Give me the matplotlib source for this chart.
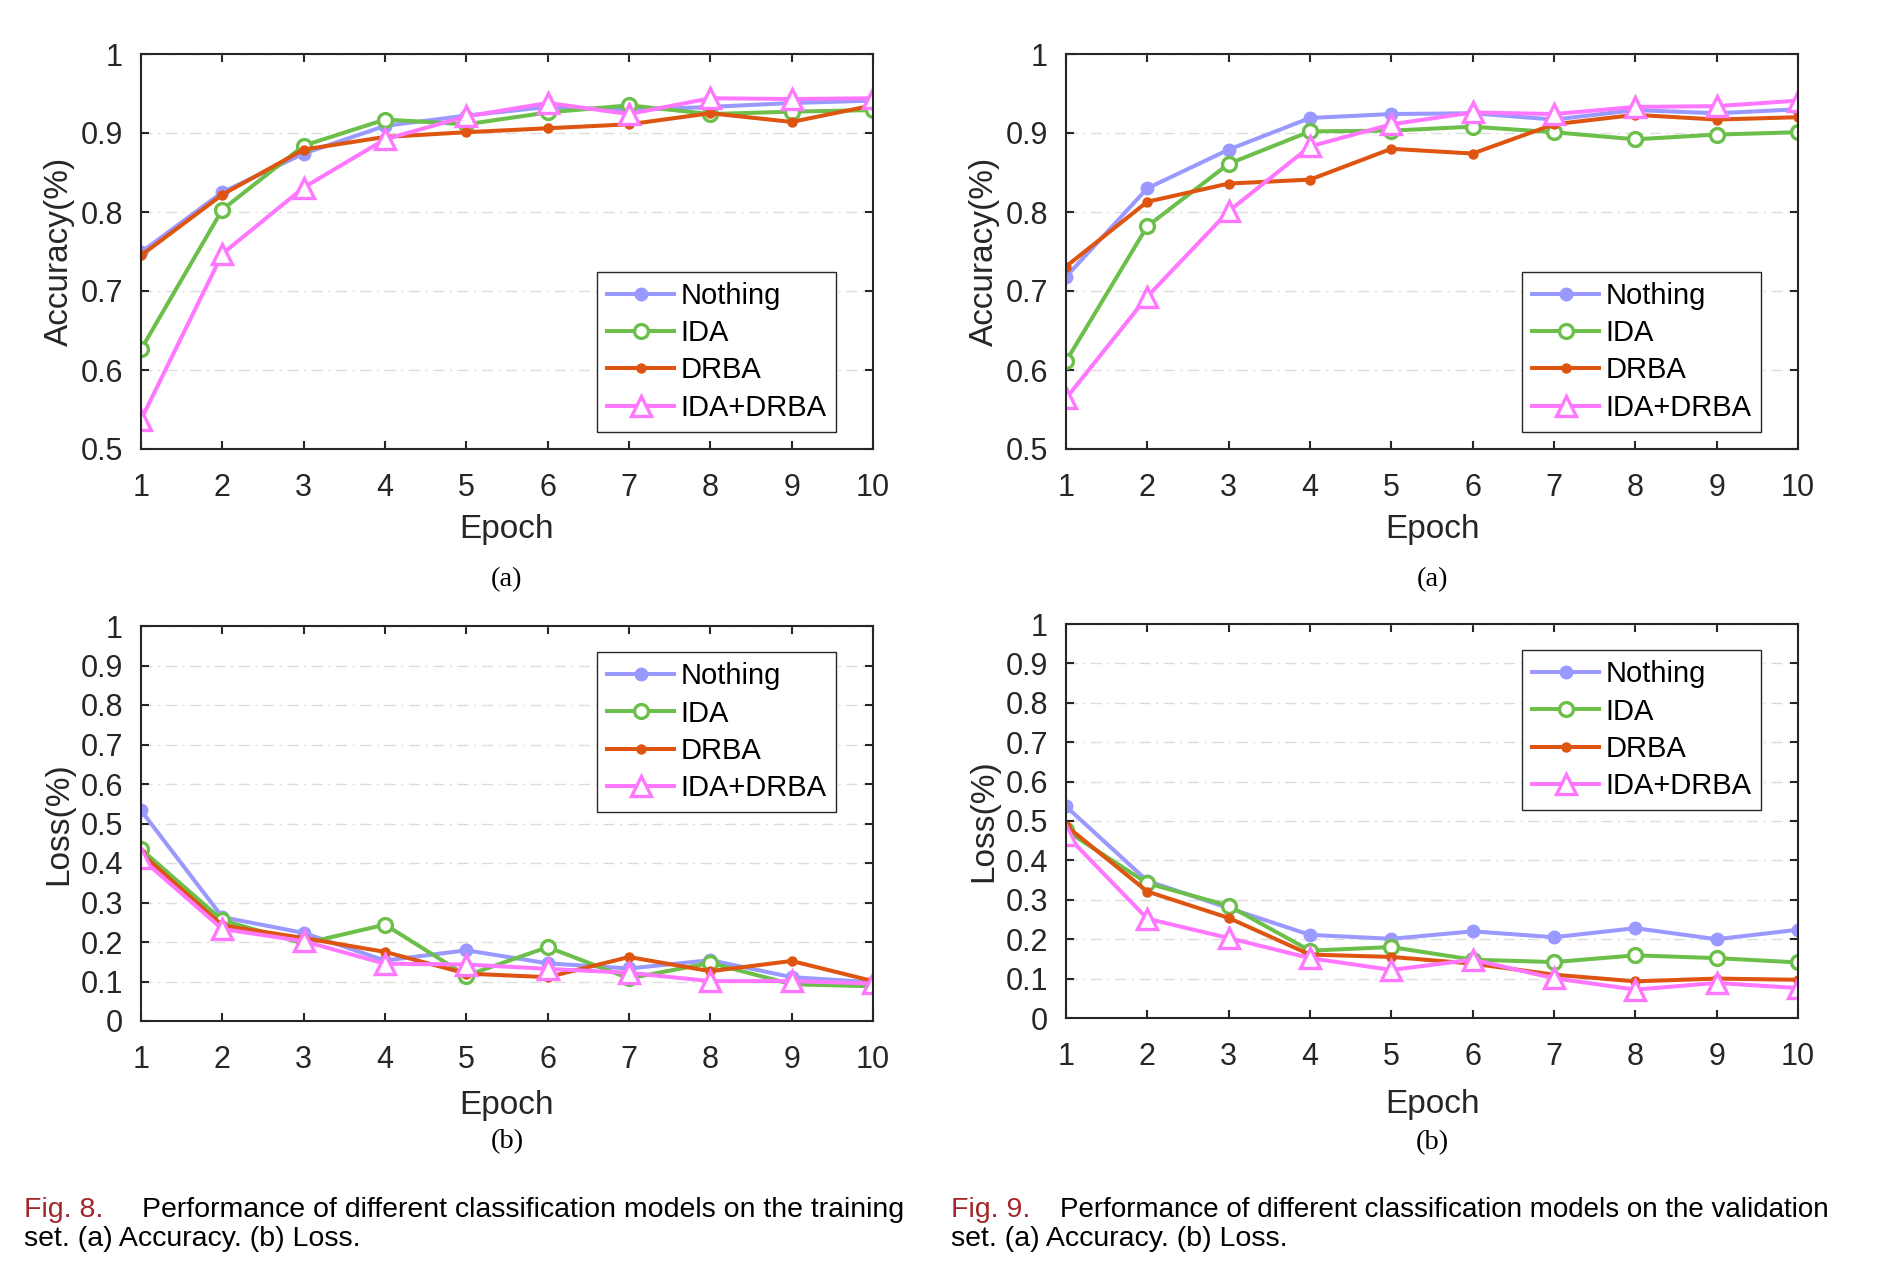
import matplotlib
matplotlib.use('Agg')
import matplotlib.pyplot as plt
from matplotlib.ticker import FuncFormatter
import numpy as np

plt.rcParams['font.family'] = ['Liberation Sans', 'DejaVu Sans']

epochs = np.arange(1, 11)
names = ['Nothing', 'IDA', 'DRBA', 'IDA+DRBA']

# training accuracy (Fig. 8a)
train_acc_nothing = [0.749, 0.825, 0.874, 0.909, 0.922, 0.933, 0.929, 0.933, 0.938, 0.941]
train_acc_ida = [0.626, 0.803, 0.884, 0.917, 0.911, 0.926, 0.935, 0.924, 0.927, 0.929]
train_acc_drba = [0.745, 0.822, 0.879, 0.895, 0.901, 0.906, 0.911, 0.925, 0.914, 0.935]
train_acc_both = [0.537, 0.747, 0.831, 0.892, 0.921, 0.938, 0.924, 0.944, 0.943, 0.944]

# training loss (Fig. 8b)
train_loss_nothing = [0.533, 0.263, 0.223, 0.153, 0.179, 0.146, 0.133, 0.154, 0.111, 0.098]
train_loss_ida = [0.435, 0.255, 0.196, 0.244, 0.115, 0.187, 0.108, 0.147, 0.093, 0.088]
train_loss_drba = [0.425, 0.242, 0.210, 0.175, 0.120, 0.111, 0.162, 0.126, 0.152, 0.101]
train_loss_both = [0.412, 0.233, 0.202, 0.145, 0.143, 0.132, 0.122, 0.101, 0.101, 0.095]

# validation accuracy (Fig. 9a)
val_acc_nothing = [0.718, 0.830, 0.879, 0.919, 0.924, 0.925, 0.917, 0.929, 0.925, 0.930]
val_acc_ida = [0.611, 0.782, 0.861, 0.902, 0.903, 0.908, 0.901, 0.892, 0.898, 0.901]
val_acc_drba = [0.731, 0.813, 0.836, 0.841, 0.880, 0.874, 0.911, 0.923, 0.917, 0.920]
val_acc_both = [0.564, 0.693, 0.801, 0.883, 0.911, 0.926, 0.924, 0.933, 0.934, 0.941]

# validation loss (Fig. 9b)
val_loss_nothing = [0.537, 0.348, 0.279, 0.211, 0.201, 0.220, 0.205, 0.228, 0.200, 0.224]
val_loss_ida = [0.476, 0.342, 0.285, 0.171, 0.180, 0.148, 0.142, 0.159, 0.152, 0.141]
val_loss_drba = [0.488, 0.321, 0.254, 0.161, 0.155, 0.138, 0.110, 0.093, 0.100, 0.097]
val_loss_both = [0.465, 0.252, 0.203, 0.152, 0.122, 0.148, 0.101, 0.072, 0.089, 0.076]

colors = ['#9999ff', '#6cbf4a', '#dd5511', '#ff77ff']
styles = [
    dict(marker='o', ms=9, mfc=colors[0], mec=colors[0]),
    dict(marker='o', ms=10, mfc='white', mec=colors[1], mew=2.4),
    dict(marker='o', ms=6.5, mfc=colors[2], mec=colors[2]),
    dict(marker='^', ms=14, mfc='white', mec=colors[3], mew=2.4),
]

W, H = 1888, 1282
fig = plt.figure(figsize=(W / 100, H / 100), dpi=100)
dark = '#262626'


def px_axes(left, top, right, bottom):
    return fig.add_axes([left / W, 1 - bottom / H, (right - left) / W, (bottom - top) / H])


def draw_panel(ax, series, ylim, yticks, ylabel, tag, leg_loc, leg_anchor, tag_y, lab_y):
    for i, ys in enumerate(series):
        ax.plot(epochs, ys, color=colors[i], lw=2.9, label=names[i], **styles[i])
    ax.set_xlim(1, 10)
    ax.set_ylim(*ylim)
    ax.set_xticks(epochs)
    ax.set_yticks(yticks)
    ax.yaxis.set_major_formatter(FuncFormatter(lambda v, p: f'{v:g}'))
    ax.grid(axis='y', ls=(0, (8, 4, 1.5, 4)), color='#dcdcdc', lw=1)
    ax.set_axisbelow(True)
    ax.tick_params(direction='in', top=True, right=True, length=6, width=1.5,
                   labelsize=22, colors=dark, pad=13)
    ax.tick_params(axis='x', pad=17)
    for s in ax.spines.values():
        s.set_linewidth(1.5)
        s.set_color(dark)
    ax.text(-0.112, 0.5, ylabel, transform=ax.transAxes, rotation=90,
            ha='center', va='center', fontsize=24, color=dark)
    ax.text(0.5, lab_y, 'Epoch', transform=ax.transAxes,
            ha='center', va='center', fontsize=24, color=dark)
    ax.text(0.5, tag_y, tag, transform=ax.transAxes, ha='center', va='center',
            fontsize=20.5, family='Liberation Serif', color='black')
    leg = ax.legend(loc=leg_loc, bbox_to_anchor=leg_anchor, fontsize=21,
                    fancybox=False, framealpha=1, edgecolor=dark,
                    handlelength=2.3, handletextpad=0.2, labelspacing=0.32,
                    borderpad=0.35, borderaxespad=0)
    leg.get_frame().set_linewidth(1.0)


acc_ticks = np.arange(0.5, 1.01, 0.1)
loss_ticks = np.arange(0, 1.01, 0.1)

ax1 = px_axes(141, 54, 873, 449)
draw_panel(ax1, [train_acc_nothing, train_acc_ida, train_acc_drba, train_acc_both],
           (0.5, 1), acc_ticks, 'Accuracy(%)', '(a)', 'lower right', (0.95, 0.043), -0.33, -0.205)

ax2 = px_axes(1066, 54, 1798, 449)
draw_panel(ax2, [val_acc_nothing, val_acc_ida, val_acc_drba, val_acc_both],
           (0.5, 1), acc_ticks, 'Accuracy(%)', '(a)', 'lower right', (0.95, 0.043), -0.33, -0.205)

ax3 = px_axes(141, 626, 873, 1021)
draw_panel(ax3, [train_loss_nothing, train_loss_ida, train_loss_drba, train_loss_both],
           (0, 1), loss_ticks, 'Loss(%)', '(b)', 'upper right', (0.95, 0.934), -0.305, -0.215)

ax4 = px_axes(1066, 624, 1798, 1018)
draw_panel(ax4, [val_loss_nothing, val_loss_ida, val_loss_drba, val_loss_both],
           (0, 1), loss_ticks, 'Loss(%)', '(b)', 'upper right', (0.95, 0.934), -0.315, -0.22)

# captions
cap = dict(fontsize=20.5, va='center', ha='left')
red = '#a3262a'
fig.text(24 / W, 1 - 1210 / H, 'Fig. 8.', color=red, **cap)
fig.text(142 / W, 1 - 1210 / H, 'Performance of different classification models on the training', color='black', **cap)
fig.text(24 / W, 1 - 1239 / H, 'set. (a) Accuracy. (b) Loss.', color='black', **cap)
fig.text(951 / W, 1 - 1210 / H, 'Fig. 9.', color=red, **cap)
fig.text(1060 / W, 1 - 1210 / H, 'Performance of different classification models on the validation',
         color='black', fontsize=20, va='center', ha='left')
fig.text(951 / W, 1 - 1239 / H, 'set. (a) Accuracy. (b) Loss.', color='black', **cap)

fig.savefig('out.png', dpi=100, facecolor='white')
